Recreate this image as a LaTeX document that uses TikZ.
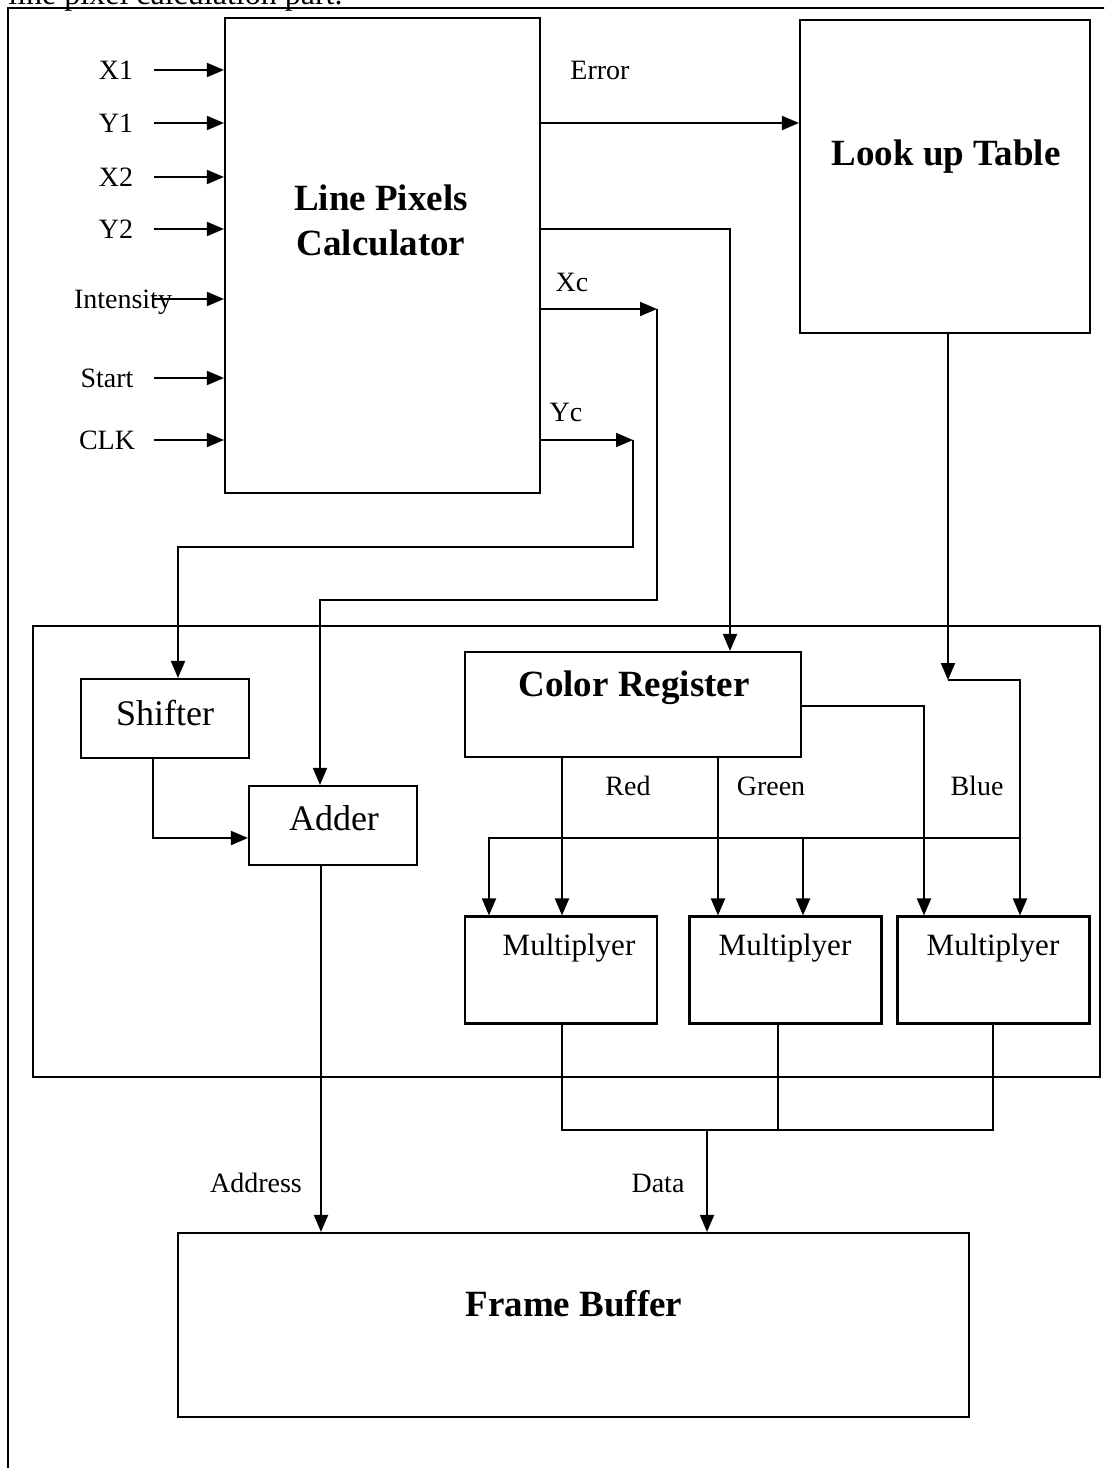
\documentclass[tikz,border=0pt]{standalone}
\usepackage{fontspec}
\setmainfont{Liberation Serif}
\usetikzlibrary{arrows.meta,calc}

\tikzset{
  wire/.style={line width=0.95pt},
  arr/.style={wire, -{Triangle[length=8.5pt,width=7pt]}},
  blk/.style 2 args={draw, line width=1.05pt, inner sep=0pt,
    minimum width={#1*0.5pt}, minimum height={#2*0.5pt}},
  sig/.style={font=\fontsize{14}{16}\selectfont, inner sep=0pt, text height=9.3pt, text depth=0pt},
  boxtitle/.style={font=\bfseries\fontsize{18.5}{22.5}\selectfont, align=center, inner sep=0pt},
  boxtext/.style={font=\fontsize{18}{20}\selectfont, inner sep=0pt},
  multext/.style={font=\fontsize{15.5}{18}\selectfont, inner sep=0pt}
}

\begin{document}
\begin{tikzpicture}[x=0.5pt,y=-0.5pt]
\useasboundingbox (0,0) rectangle (1104,1468);
\clip (0,0) rectangle (1104,1468);

% page frame, caption line cut off above it
\node[anchor=base west, inner sep=0pt, font=\fontsize{16}{18}\selectfont] (cap) at (8,4) {line pixel calculation part.};
\draw[wire] (8,1480) -- (8,8) -- (1110,8);

% upper blocks
\node[blk={315}{475}] (lpc) at (382.5,255.5) {};
\node[boxtitle] at (381,220) {Line Pixels\\Calculator};
\node[blk={290}{313}] (lut) at (945,176.5) {};
\node[boxtitle] at (946,157) {Look up Table};

% inputs of the calculator
\foreach \nm/\txt/\xx/\yy in {x1/X1/116/70, y1/Y1/116/123, x2/X2/116/177, y2/Y2/116/229,
    int/Intensity/123/299, st/Start/107/378, clk/CLK/107/440}{
  \node[sig] (\nm) at (\xx,\yy) {\txt};
  \draw[arr] ($(lpc.west |- \nm)+(-70,0)$) -- (lpc.west |- \nm);
}

% drawing unit
\node[blk={1067}{451}] (core) at (566.5,851.5) {};
\node[blk={168}{79}] (shift) at (165,718.5) {};
\node[boxtext] at (165,713) {Shifter};
\node[blk={168}{79}] (adder) at (333,825.5) {};
\node[boxtext] at (334,818) {Adder};
\node[blk={336}{105}] (creg) at (633,704.5) {};
\node[boxtitle] at (634,688) {Color Register};
\foreach \nm/\xx/\tx in {m1/561/569, m2/785.5/785, m3/993.5/993}{
  \node[blk={192}{107}] (\nm) at (\xx,970) {};
  \node[multext] at (\tx,948) {Multiplyer};
}
\node[blk={791}{184}] (fb) at (573.5,1325) {};
\node[boxtitle] at (574,1304) {Frame Buffer};

% Error
\node[sig] (err) at (600,70) {Error};
\draw[arr] (lpc.east |- 0,123) -- (lut.west |- 0,123);

% colour to register
\draw[arr] (lpc.east |- 0,229) -| (creg.north -| 730,0);

% Xc to adder
\coordinate (xcend) at (657,309);
\node[sig] (xc) at (572,282) {Xc};
\draw[arr] (lpc.east |- xcend) -- (xcend);
\draw[arr] (xcend) |- (320,600) -- (adder.north -| 320,0);

% Yc to shifter
\coordinate (ycend) at (633,440);
\node[sig] (yc) at (566,412) {Yc};
\draw[arr] (lpc.east |- ycend) -- (ycend);
\draw[arr] (ycend) |- (178,547) -- (shift.north -| 178,0);

\draw[arr] (shift.south -| 153,0) |- (adder.west |- 0,838);

% colour channels
\node[sig] (red) at (628,786) {Red};
\node[sig] (green) at (771,786) {Green};
\node[sig] (blue) at (977,786) {Blue};
\draw[arr] (creg.south -| 562,0) -- (m1.north -| 562,0);
\draw[arr] (creg.south -| 718,0) -- (m2.north -| 718,0);
\draw[arr] (creg.east |- 0,706) -| (m3.north -| 924,0);

% intensity from the table
\coordinate (lutend) at (948,680);
\coordinate (bus) at (1020,838);
\draw[arr] (lut.south -| lutend) -- (lutend);
\draw[arr] (lutend) -| (m3.north -| bus);
\draw[arr] (bus) -| (m1.north -| 489,0);
\draw[arr] (bus -| 803,0) -- (m2.north -| 803,0);

% outputs to frame buffer
\coordinate (dbus) at (707,1130);
\draw[wire] (m1.south -| 562,0) |- (dbus) -| (m3.south -| 993,0);
\draw[wire] (m2.south -| 778,0) -- (dbus -| 778,0);
\draw[arr] (dbus) -- (fb.north -| dbus);
\node[sig] (data) at (658,1183) {Data};
\draw[arr] (adder.south -| 321,0) -- (fb.north -| 321,0);
\node[sig] (addr) at (256,1183) {Address};
\end{tikzpicture}
\end{document}
